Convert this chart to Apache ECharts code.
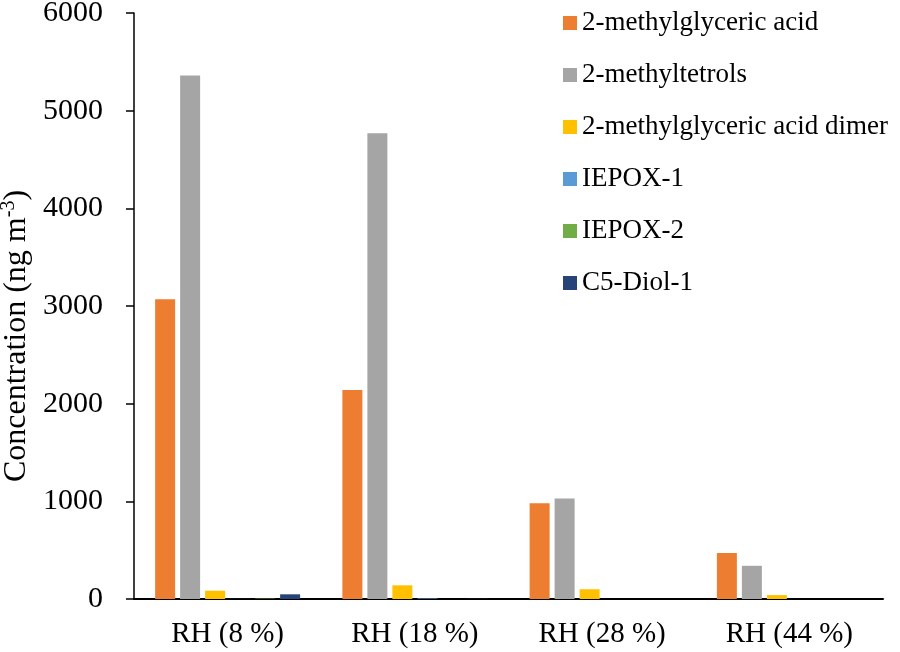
<!DOCTYPE html>
<html>
<head>
<meta charset="utf-8">
<script src="https://cdn.jsdelivr.net/npm/echarts@6/dist/echarts.min.js"></script>
<style>html,body{margin:0;padding:0;background:#fff}#c{width:900px;height:652px}</style>
</head>
<body>
<div id="c"></div>
<script>
const categories = ['RH (8 %)', 'RH (18 %)', 'RH (28 %)', 'RH (44 %)'];
const seriesNames = ['2-methylglyceric acid', '2-methyltetrols', '2-methylglyceric acid dimer', 'IEPOX-1', 'IEPOX-2', 'C5-Diol-1'];
const mgaValues = [3070, 2140, 980, 470];
const tetrolValues = [5360, 4770, 1030, 340];
const dimerValues = [85, 140, 100, 40];
const iepox1Values = [1, 6, 0, 0];
const iepox2Values = [4, 0, 0, 0];
const diolValues = [48, 2, 0, 0];
const yTicks = [0, 1000, 2000, 3000, 4000, 5000, 6000];

const colors = ['#ED7D31', '#A5A5A5', '#FFC000', '#5B9BD5', '#70AD47', '#264478'];
const allValues = [mgaValues, tetrolValues, dimerValues, iepox1Values, iepox2Values, diolValues];
const font = 'Liberation Serif';

const chart = echarts.init(document.getElementById('c'));
chart.setOption({
  animation: false,
  color: colors,
  textStyle: { fontFamily: font },
  grid: { left: 134, right: 17, top: 13, bottom: 53, containLabel: false, outerBoundsMode: 'none' },
  legend: {
    orient: 'vertical',
    left: 558, top: 4,
    itemWidth: 14, itemHeight: 14,
    itemGap: 24,
    icon: 'rect',
    textStyle: { fontFamily: font, fontSize: 27, color: '#000', lineHeight: 28 },
    data: seriesNames
  },
  xAxis: {
    type: 'category',
    data: categories,
    axisLine: { lineStyle: { color: '#000', width: 2 } },
    axisTick: { show: false },
    axisLabel: { color: '#000', fontFamily: font, fontSize: 29, margin: 21 }
  },
  yAxis: {
    type: 'value',
    min: yTicks[0], max: yTicks[yTicks.length - 1], interval: 1000,
    axisLine: { show: true, lineStyle: { color: '#000', width: 1.5 } },
    axisTick: { show: true, length: 8, lineStyle: { color: '#000', width: 1.5 } },
    splitLine: { show: false },
    axisLabel: { color: '#000', fontFamily: font, fontSize: 30, margin: 31, formatter: v => String(v) },
    name: '{a|Concentration (ng m}{b|-3}{a|)}',
    nameLocation: 'middle',
    nameGap: 99,
    nameTextStyle: {
      padding: [0, 60, 0, 0],
      rich: {
        a: { fontFamily: font, fontSize: 32, color: '#000' },
        b: { fontFamily: font, fontSize: 20, color: '#000', verticalAlign: 'top', padding: [0, 0, 14, 0] }
      }
    }
  },
  series: seriesNames.map((n, i) => ({
    name: n,
    type: 'bar',
    data: allValues[i],
    barWidth: 20,
    barGap: '25%',
    itemStyle: { color: colors[i] }
  }))
});
</script>
</body>
</html>
